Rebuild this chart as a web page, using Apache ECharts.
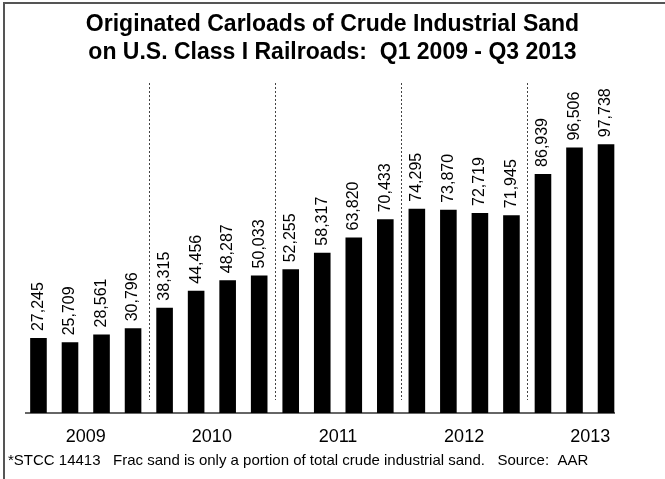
<!DOCTYPE html>
<html>
<head>
<meta charset="utf-8">
<script src="https://cdn.jsdelivr.net/npm/echarts@6/dist/echarts.min.js"></script>
<style>
html,body{margin:0;padding:0;background:#fff;}
#chart{width:665px;height:479px;}
</style>
</head>
<body>
<div id="chart"></div>
<script>
const years = ['2009', '2010', '2011', '2012', '2013'];
const quarters = ['Q1', 'Q2', 'Q3', 'Q4'];
const carloads2009 = [27245, 25709, 28561, 30796];
const carloads2010 = [38315, 44456, 48287, 50033];
const carloads2011 = [52255, 58317, 63820, 70433];
const carloads2012 = [74295, 73870, 72719, 71945];
const carloads2013 = [86939, 96506, 97738];
const titleLines = ['Originated Carloads of Crude Industrial Sand', 'on U.S. Class I Railroads:  Q1 2009 - Q3 2013'];
const footnote = '*STCC 14413   Frac sand is only a portion of total crude industrial sand.   Source:  AAR';

const allYears = [carloads2009, carloads2010, carloads2011, carloads2012, carloads2013];
const categories = [];
const values = [];
allYears.forEach((arr, yi) => {
  arr.forEach((v, qi) => {
    categories.push(quarters[qi] + ' ' + years[yi]);
    values.push(v);
  });
});

const FONT = '"Liberation Sans", Arial, sans-serif';
const chart = echarts.init(document.getElementById('chart'));
const gridLeft = 22.7, gridRight = 43.2;
const W = 665;
const band = (W - gridLeft - gridRight) / categories.length;
// separator grid covers the first 16 quarters (years with a following year)
const sepCats = categories.slice(0, 16);
const sepRight = W - gridLeft - band * sepCats.length;

chart.setOption({
  animation: false,
  backgroundColor: '#fff',
  title: {
    text: titleLines.join('\n'),
    left: 'center',
    top: 6,
    textStyle: { fontFamily: FONT, fontSize: 23, fontWeight: 'bold', color: '#000', lineHeight: 28 }
  },
  grid: [
    { left: gridLeft, right: gridRight, top: 83, bottom: 66 },
    { left: gridLeft, right: sepRight, top: 83, bottom: 79 }
  ],
  xAxis: [
    {
      type: 'category', gridIndex: 0, data: categories,
      axisLine: { show: false }, axisTick: { show: false },
      axisLabel: {
        interval: 0, margin: 15,
        fontFamily: FONT, fontSize: 18, color: '#000',
        padding: [0, 0, 0, 31.5],
        formatter: (v, i) => (i % 4 === 1 ? years[Math.floor(i / 4)] : '')
      },
      splitLine: { show: false }
    },
    {
      type: 'category', gridIndex: 1, data: sepCats,
      axisLine: { show: false }, axisTick: { show: false }, axisLabel: { show: false },
      splitLine: {
        show: true,
        interval: (i) => i > 0 && i % 4 === 0,
        lineStyle: { color: '#444', width: 1, type: [2, 2] }
      }
    }
  ],
  yAxis: [
    { type: 'value', gridIndex: 0, min: 0, max: 120000, show: false },
    { type: 'value', gridIndex: 1, min: 0, max: 1, show: false }
  ],
  series: [{
    type: 'bar',
    xAxisIndex: 0, yAxisIndex: 0,
    data: values,
    barWidth: 16.6,
    itemStyle: { color: '#000' },
    label: {
      show: true, position: 'top', rotate: 90, distance: 7,
      align: 'left', verticalAlign: 'middle',
      fontFamily: FONT, fontSize: 16, color: '#000',
      formatter: (p) => p.value.toLocaleString('en-US')
    }
  }],
  graphic: [
    { type: 'rect', shape: { x: 4, y: 3, width: 720, height: 520 }, style: { fill: null, stroke: '#555', lineWidth: 2 }, silent: true },
    { type: 'line', shape: { x1: 25, y1: 413, x2: 615, y2: 413 }, style: { stroke: '#333', lineWidth: 1.5 }, silent: true },
    { type: 'text', left: 8, top: 453, style: { text: footnote, font: '15px ' + FONT, fill: '#000' } }
  ]
});
</script>
</body>
</html>
